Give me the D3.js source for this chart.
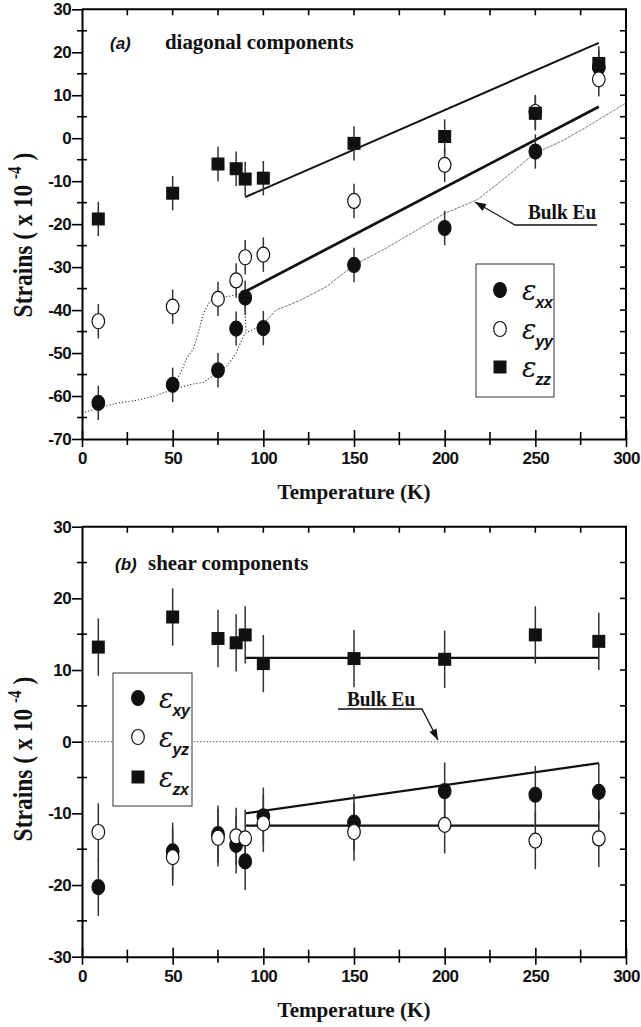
<!DOCTYPE html>
<html>
<head>
<meta charset="utf-8">
<script src="https://cdn.jsdelivr.net/npm/d3@7"></script>
<style>
  body { margin: 0; background: #fff; }
  svg { display: block; }
  .tick text { font-family: "Liberation Sans", Arial, sans-serif; font-weight: bold; font-size: 17px; letter-spacing: -0.6px; fill: #111; }
</style>
</head>
<body>
<div id="chart"></div>
<script>
// measured temperatures (K) for every strain component
const temps = [9, 50, 75, 85, 90, 100, 150, 200, 250, 285];

// (a) diagonal components, x 10^-4
const exx = [-61.6, -57.4, -54.0, -44.3, -37.1, -44.2, -29.5, -20.9, -3.1, 16.5];
const eyy = [-42.6, -39.2, -37.4, -33.1, -27.7, -27.1, -14.6, -6.2, 6.1, 13.7];
const ezz = [-18.8, -12.8, -6.0, -7.1, -9.5, -9.3, -1.2, 0.4, 5.8, 17.4];

// (b) shear components, x 10^-4
const exy = [-20.3, -15.3, -12.9, -14.4, -16.7, -10.4, -11.3, -6.9, -7.4, -7.0];
const eyz = [-12.6, -16.1, -13.4, -13.2, -13.5, -11.4, -12.6, -11.6, -13.8, -13.5];
const ezx = [13.2, 17.4, 14.4, 13.8, 14.9, 10.9, 11.6, 11.5, 14.9, 14.0];

const errBar = 4;

// linear fits (start / end temperature)
const fitT = [90, 285];
const fitZZ = [-13.7, 22.2];
const fitXX = [-35.7, 7.3];
const fitZX = [11.7, 11.7];
const fitXY = [-10.0, -3.0];
const fitYZ = [-11.7, -11.7];

// bulk Eu reference curve (panel a)
const bulkLowT = [0, 10, 20, 30, 40, 50, 60, 67, 75, 80, 85, 88, 90, 94, 100];
const bulkLowS = [-64, -62.6, -61.6, -61, -60, -58.5, -57.3, -56.8, -54.5, -53, -50, -47, -45.4, -44.6, -43.2];
const bulkLoopT = [50, 55, 58, 61.5, 65, 67, 70.5, 75, 83, 89, 90, 90.5];
const bulkLoopS = [-58.2, -54, -51, -49, -44, -40.7, -38, -37.3, -36.6, -36, -41, -45];
const bulkHighT = [100, 107, 120, 135, 150, 166, 185, 200, 218, 232, 250, 264, 277, 300];
const bulkHighS = [-43.2, -40, -37.8, -34.5, -29.5, -26, -21.3, -17.5, -14.3, -9.7, -3.4, -0.8, 2.3, 8.2];
// bulk Eu reference in panel b
const bulkShear = 0;

const xTicksMajor = [0, 50, 100, 150, 200, 250, 300];

const W = 641, H = 1027;
const svg = d3.select("#chart").append("svg").attr("width", W).attr("height", H);

const x = d3.scaleLinear().domain([0, 300]).range([82, 626]);

const serif = '"Liberation Serif", "Times New Roman", serif';
const sans = '"Liberation Sans", Arial, sans-serif';
const plain = d => String(d);

function drawPanel(p) {
    const y = p.y;
    const g = svg.append("g");
    const x0 = x.range()[0], x1 = x.range()[1];
    const yTop = y.range()[1], yBot = y.range()[0];

    // extra lines (drawn first, under the markers)
    if (p.under) p.under(g, y);

    // left axis with labels
    g.append("g")
        .attr("transform", `translate(${x0},0)`)
        .call(d3.axisLeft(y).tickValues(d3.range(y.domain()[0], y.domain()[1] + 1, 10)).tickFormat(plain)
            .tickSize(10).tickSizeOuter(0).tickPadding(1))
        .call(a => a.select(".domain").attr("stroke-width", 2))
        .call(a => a.selectAll(".tick line").attr("stroke-width", 1.6));
    // minor ticks crossing the left axis
    g.append("g").selectAll("line")
        .data(d3.range(y.domain()[0] + 5, y.domain()[1], 10))
        .join("line")
        .attr("x1", x0 - 5).attr("x2", x0 + 5)
        .attr("y1", d => y(d)).attr("y2", d => y(d))
        .attr("stroke", "#000").attr("stroke-width", 1.6);

    // bottom axis with labels
    g.append("g")
        .attr("transform", `translate(0,${yBot})`)
        .call(d3.axisBottom(x).tickValues(xTicksMajor).tickFormat(plain).tickSize(8).tickSizeOuter(0).tickPadding(5))
        .call(a => a.select(".domain").attr("stroke-width", 2))
        .call(a => a.selectAll(".tick line").attr("stroke-width", 1.6).attr("y1", -9));
    g.append("g").selectAll("line")
        .data(d3.range(25, 300, 50))
        .join("line")
        .attr("x1", d => x(d)).attr("x2", d => x(d))
        .attr("y1", yBot - 7).attr("y2", yBot + 6)
        .attr("stroke", "#000").attr("stroke-width", 1.6);

    // top and right frame with inward ticks
    g.append("line").attr("x1", x0).attr("x2", x1 + 1).attr("y1", yTop).attr("y2", yTop)
        .attr("stroke", "#000").attr("stroke-width", 2);
    g.append("line").attr("x1", x1).attr("x2", x1).attr("y1", yTop).attr("y2", yBot)
        .attr("stroke", "#000").attr("stroke-width", 2);
    g.append("g").selectAll("line")
        .data(d3.range(25, 300, 25))
        .join("line")
        .attr("x1", d => x(d)).attr("x2", d => x(d))
        .attr("y1", yTop).attr("y2", yTop + 6)
        .attr("stroke", "#000").attr("stroke-width", 1.6);
    g.append("g").selectAll("line")
        .data(d3.range(y.domain()[0] + 5, y.domain()[1], 5))
        .join("line")
        .attr("x1", x1 - 6).attr("x2", x1)
        .attr("y1", d => y(d)).attr("y2", d => y(d))
        .attr("stroke", "#000").attr("stroke-width", 1.6);

    // fit lines
    p.fits.forEach(f => {
        g.append("line")
            .attr("x1", x(fitT[0])).attr("x2", x(fitT[1]))
            .attr("y1", y(f.v[0])).attr("y2", y(f.v[1]))
            .attr("stroke", "#111").attr("stroke-width", f.w);
    });

    // data series: error bars then markers
    p.series.forEach(s => {
        const pts = temps.map((t, i) => ({ t: t, v: s.values[i] }));
        g.append("g").selectAll("line")
            .data(pts)
            .join("line")
            .attr("x1", d => x(d.t)).attr("x2", d => x(d.t))
            .attr("y1", d => y(d.v - errBar)).attr("y2", d => y(d.v + errBar))
            .attr("stroke", "#333").attr("stroke-width", 1.5);
    });
    p.series.forEach(s => {
        const pts = temps.map((t, i) => ({ t: t, v: s.values[i] }));
        const mk = g.append("g");
        if (s.shape === "square") {
            mk.selectAll("rect").data(pts).join("rect")
                .attr("x", d => x(d.t) - 6.5).attr("y", d => y(d.v) - 6.5)
                .attr("width", 13).attr("height", 13).attr("fill", "#111");
        } else {
            mk.selectAll("ellipse").data(pts).join("ellipse")
                .attr("cx", d => x(d.t)).attr("cy", d => y(d.v))
                .attr("rx", 6.3).attr("ry", 7.5)
                .attr("fill", s.shape === "filled" ? "#111" : "#fff")
                .attr("stroke", "#111").attr("stroke-width", 1.2);
        }
    });

    // panel title
    g.append("text")
        .attr("x", p.tagX).attr("y", p.titleY)
        .attr("font-family", sans).attr("font-weight", "bold").attr("font-style", "italic")
        .attr("font-size", 17).attr("fill", "#111")
        .text(p.tag);
    g.append("text")
        .attr("transform", `translate(${p.titleX},${p.titleY}) scale(0.95,1)`)
        .attr("font-family", serif).attr("font-weight", "bold")
        .attr("font-size", 22).attr("fill", "#111")
        .text(p.title);

    // Bulk Eu annotation: underline, leader and arrow head
    const b = p.bulk;
    g.append("text")
        .attr("transform", `translate(${b.tx},${b.ty}) scale(0.92,1)`)
        .attr("font-family", serif).attr("font-weight", "bold")
        .attr("font-size", 21).attr("fill", "#111")
        .text("Bulk Eu");
    const ufar = b.from === "left" ? b.ux1 : b.ux0, unear = b.from === "left" ? b.ux0 : b.ux1;
    g.append("polyline")
        .attr("points", [[ufar, b.uy], [unear, b.uy], [b.ax, b.ay]].map(q => q.join(",")).join(" "))
        .attr("fill", "none").attr("stroke", "#111").attr("stroke-width", 1.3);
    const ang = Math.atan2(b.ay - b.uy, b.ax - unear);
    const tipLen = 11, tipW = 4;
    const bx = b.ax - tipLen * Math.cos(ang), by = b.ay - tipLen * Math.sin(ang);
    g.append("path")
        .attr("d", `M${b.ax},${b.ay}L${bx - tipW * Math.sin(ang)},${by + tipW * Math.cos(ang)}L${bx + tipW * Math.sin(ang)},${by - tipW * Math.cos(ang)}Z`)
        .attr("fill", "#111");

    // legend
    const L = p.legend;
    g.append("rect")
        .attr("x", L.x).attr("y", L.y).attr("width", L.w).attr("height", L.h)
        .attr("fill", "#fff").attr("stroke", "#333").attr("stroke-width", 1);
    p.series.forEach((s, i) => {
        const cy = L.rows[i];
        if (s.shape === "square") {
            g.append("rect").attr("x", L.sx - 6.5).attr("y", cy - 6.5).attr("width", 13).attr("height", 13).attr("fill", "#111");
        } else {
            g.append("ellipse").attr("cx", L.sx).attr("cy", cy).attr("rx", 6.3).attr("ry", 7.5)
                .attr("fill", s.shape === "filled" ? "#111" : "#fff")
                .attr("stroke", "#111").attr("stroke-width", 1.2);
        }
        const t = g.append("text")
            .attr("x", L.tx).attr("y", cy + 10)
            .attr("fill", "#111");
        t.append("tspan")
            .attr("font-family", '"DejaVu Serif", serif').attr("font-style", "italic").attr("font-size", 27)
            .text("ε");
        t.append("tspan")
            .attr("font-family", sans).attr("font-style", "italic").attr("font-weight", "bold")
            .attr("font-size", 16).attr("dx", -1).attr("dy", 8).attr("letter-spacing", -0.5)
            .text(s.sub);
    });

    // axis titles
    g.append("text")
        .attr("transform", `translate(${(x0 + x1) / 2},${yBot + 60}) scale(0.96,1)`)
        .attr("text-anchor", "middle")
        .attr("font-family", serif).attr("font-weight", "bold").attr("font-size", 22).attr("fill", "#111")
        .text("Temperature (K)");
    const yl = g.append("text")
        .attr("transform", `translate(32,${p.ylabY}) rotate(-90) scale(0.84,1)`)
        .attr("text-anchor", "middle")
        .attr("font-family", serif).attr("font-weight", "bold").attr("font-size", 28).attr("fill", "#111");
    yl.append("tspan").text("Strains ( x 10 ");
    yl.append("tspan").attr("font-size", 18).attr("dy", -11).text("-4");
    yl.append("tspan").attr("dy", 11).text(" )");
}

const line = (y) => d3.line().x(d => x(d[0])).y(d => y(d[1])).curve(d3.curveLinear);

// panel (a)
const yA = d3.scaleLinear().domain([-70, 30]).range([439, 9.3]);
drawPanel({
    y: yA,
    under: (g, y) => {
        g.append("path")
            .attr("d", line(y)(bulkLowT.map((t, i) => [t, bulkLowS[i]])))
            .attr("fill", "none").attr("stroke", "#333").attr("stroke-width", 1.1).attr("stroke-dasharray", "1.2,2");
        g.append("path")
            .attr("d", line(y)(bulkLoopT.map((t, i) => [t, bulkLoopS[i]])))
            .attr("fill", "none").attr("stroke", "#333").attr("stroke-width", 1.1).attr("stroke-dasharray", "1.2,2");
        g.append("path")
            .attr("d", line(y)(bulkHighT.map((t, i) => [t, bulkHighS[i]])))
            .attr("fill", "none").attr("stroke", "#777").attr("stroke-width", 1).attr("stroke-dasharray", "3,1");
    },
    fits: [{ v: fitZZ, w: 2 }, { v: fitXX, w: 2.8 }],
    series: [
        { values: exx, shape: "filled", sub: "xx" },
        { values: eyy, shape: "open", sub: "yy" },
        { values: ezz, shape: "square", sub: "zz" }
    ],
    tag: "(a)", tagX: 110, title: "diagonal components", titleX: 165, titleY: 49,
    bulk: { tx: 528, ty: 219, ux0: 515, ux1: 597, uy: 225, ax: 475, ay: 202, from: "left" },
    legend: { x: 476, y: 264, w: 78, h: 133, sx: 500, tx: 522, rows: [290, 329, 367] },
    ylabY: 235
});

// panel (b)
const yB = d3.scaleLinear().domain([-30, 30]).range([956.7, 526.7]);
drawPanel({
    y: yB,
    under: (g, y) => {
        g.append("line")
            .attr("x1", x(0)).attr("x2", x(300))
            .attr("y1", y(bulkShear)).attr("y2", y(bulkShear))
            .attr("stroke", "#444").attr("stroke-width", 1).attr("stroke-dasharray", "1.2,2");
    },
    fits: [{ v: fitZX, w: 2.2 }, { v: fitXY, w: 2.2 }, { v: fitYZ, w: 2.2 }],
    series: [
        { values: exy, shape: "filled", sub: "xy" },
        { values: eyz, shape: "open", sub: "yz" },
        { values: ezx, shape: "square", sub: "zx" }
    ],
    tag: "(b)", tagX: 115, title: "shear components", titleX: 148, titleY: 570,
    bulk: { tx: 347, ty: 706, ux0: 338, ux1: 422, uy: 709, ax: 438, ay: 740, from: "right" },
    legend: { x: 113, y: 673, w: 79, h: 133, sx: 138, tx: 159, rows: [698, 737, 777] },
    ylabY: 759
});
</script>
</body>
</html>
